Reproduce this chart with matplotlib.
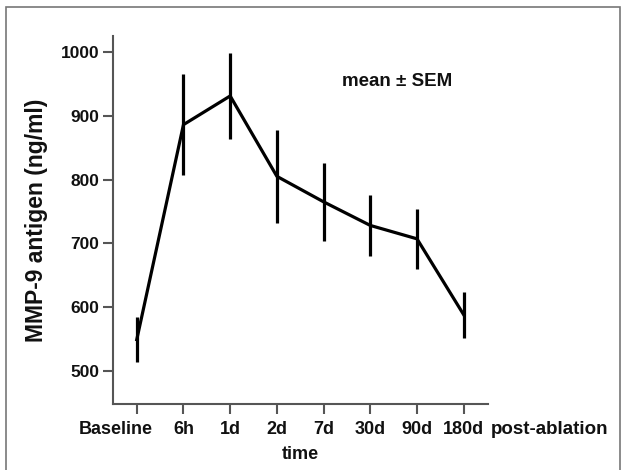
import matplotlib.pyplot as plt
import matplotlib.transforms as mtransforms
from matplotlib.patches import Rectangle

plt.rcParams['font.family'] = ['Liberation Sans', 'DejaVu Sans']
plt.rcParams['font.weight'] = 'bold'

timepoints = ["Baseline", "6h", "1d", "2d", "7d", "30d", "90d", "180d"]
mean_mmp9 = [549, 886, 931, 805, 765, 728, 707, 588]
sem_mmp9 = [35, 79, 68, 73, 61, 48, 47, 36]

fig = plt.figure(figsize=(6.24, 4.70), dpi=100)
fig.patches.append(Rectangle((0.0096, -0.01), 0.984, 0.995, transform=fig.transFigure,
                             fill=False, edgecolor="#777777", linewidth=1.2))
ax = fig.add_axes([0.181, 0.1404, 0.601, 0.783])

x = list(range(len(timepoints)))
ax.errorbar(x, mean_mmp9, yerr=sem_mmp9, color="black", linewidth=2.3,
            elinewidth=2.3, capsize=0)

ax.set_xlim(-0.51, 7.52)
ax.set_ylim(448, 1025)
ax.set_yticks([500, 600, 700, 800, 900, 1000])
ax.set_xticks(x)
# "Baseline" sits left of its tick in the original, so it gets its own text
ax.set_xticklabels([""] + timepoints[1:], fontsize=13)

for s in ["top", "right"]:
    ax.spines[s].set_visible(False)
for s in ["left", "bottom"]:
    ax.spines[s].set_color("#555555")
    ax.spines[s].set_linewidth(1.5)
ax.tick_params(axis="both", colors="#555555", width=1.5, length=7,
               labelcolor="#111111")
ax.tick_params(axis="y", labelsize=12.5, pad=3)
ax.tick_params(axis="x", pad=5)

ax.set_xlabel("time", fontsize=13, fontweight="bold", color="#111111", labelpad=6)
ax.set_ylabel("MMP-9 antigen (ng/ml)", fontsize=16.5, fontweight="bold",
              color="#111111", labelpad=9)

trans = mtransforms.blended_transform_factory(ax.transData, ax.transAxes)
below = trans + mtransforms.ScaledTranslation(0, -12 / 72, fig.dpi_scale_trans)
ax.text(0.34, 0, timepoints[0], transform=below, ha="right", va="top",
        fontsize=13, fontweight="bold", color="#111111")
ax.text(7.58, 0, "post-ablation", transform=below, ha="left", va="top",
        fontsize=13.5, fontweight="bold", color="#111111")
ax.text(5.57, 954, "mean \u00b1 SEM", ha="center", va="center",
        fontsize=13.5, fontweight="bold", color="#111111")

fig.savefig("out.png", dpi=100)
